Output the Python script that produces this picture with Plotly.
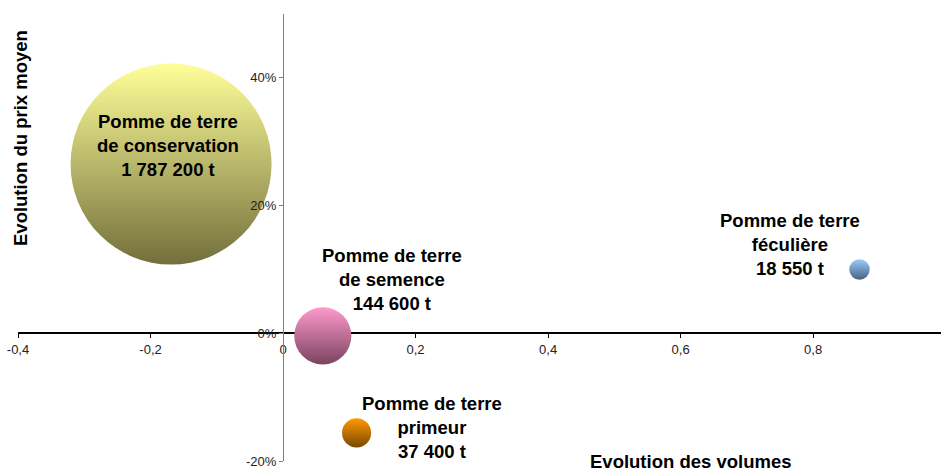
import plotly.graph_objects as go

# ---- data ----
categories = ["Pomme de terre<br>de conservation", "Pomme de terre<br>de semence",
              "Pomme de terre<br>primeur", "Pomme de terre<br>féculière"]
volume_change = [-0.169, 0.060, 0.111, 0.870]     # Evolution des volumes
price_change = [0.265, -0.004, -0.156, 0.100]     # Evolution du prix moyen
tonnage = [1787200, 144600, 37400, 18550]

x_tickvals = [-0.4, -0.2, 0, 0.2, 0.4, 0.6, 0.8]
x_ticktext = ["-0,4", "-0,2", "0", "0,2", "0,4", "0,6", "0,8"]
y_tickvals = [-0.2, 0, 0.2, 0.4]
y_ticktext = ["-20%", "0%", "20%", "40%"]

# ---- styles ----
top_colors = ["#FFFF99", "#FF99CC", "#FF9900", "#99CCFF"]
bottom_colors = ["#736F3C", "#7A4460", "#7A4800", "#4A6180"]
label_shift = [(-3.5, 19), (69, 56.5), (75, 5), (-70, 25)]

FONT = "Arial, 'Liberation Sans', sans-serif"
W, H = 941, 472
ML, MR, MT, MB = 18, 0, 14, 11
xr = [-0.4, 0.993]
yr = [-0.2, 0.5]

max_d = 201
sizeref = 2 * max(tonnage) / (max_d ** 2)

fig = go.Figure()
for i in range(len(categories)):
    fig.add_trace(go.Scatter(
        x=[volume_change[i]], y=[price_change[i]], mode="markers",
        marker=dict(size=[tonnage[i]], sizemode="area", sizeref=sizeref,
                    color=top_colors[i],
                    gradient=dict(type="vertical", color=bottom_colors[i]),
                    line=dict(width=0), opacity=1),
        showlegend=False, hoverinfo="skip"))


def fmt_t(v):
    return f"{v:,}".replace(",", " ") + " t"


annotations = []
for i in range(len(categories)):
    dx, dy = label_shift[i]
    annotations.append(dict(
        x=volume_change[i], y=price_change[i], xref="x", yref="y",
        text=f"<b>{categories[i]}<br>{fmt_t(tonnage[i])}</b>",
        showarrow=False, xshift=dx, yshift=dy, align="center",
        xanchor="center", yanchor="middle",
        font=dict(family=FONT, size=18.5, color="#000000")))

# axis titles
annotations.append(dict(
    x=(20 - ML) / (W - ML - MR), y=(H - MB - 138) / (H - MT - MB),
    xref="paper", yref="paper", text="<b>Evolution du prix moyen</b>",
    textangle=-90, showarrow=False, xanchor="center", yanchor="middle",
    font=dict(family=FONT, size=18.5, color="#000000")))
annotations.append(dict(
    x=(691 - ML) / (W - ML - MR), y=(H - MB - 461) / (H - MT - MB),
    xref="paper", yref="paper", text="<b>Evolution des volumes</b>",
    showarrow=False, xanchor="center", yanchor="middle",
    font=dict(family=FONT, size=18.5, color="#000000")))

fig.update_layout(
    width=W, height=H, template="none",
    margin=dict(l=ML, r=MR, t=MT, b=MB, pad=0, autoexpand=False),
    paper_bgcolor="white", plot_bgcolor="white",
    annotations=annotations,
    xaxis=dict(range=xr, anchor="free", position=(0 - yr[0]) / (yr[1] - yr[0]),
               showgrid=False, zeroline=False, showline=True,
               linecolor="#000000", linewidth=1.5,
               ticks="outside", ticklen=4, tickcolor="#000000", tickwidth=1,
               tickvals=x_tickvals, ticktext=x_ticktext,
               tickfont=dict(family=FONT, size=13, color="#222222"),
               layer="below traces", automargin=False),
    yaxis=dict(range=yr, anchor="free", position=(0 - xr[0]) / (xr[1] - xr[0]),
               showgrid=False, zeroline=False, showline=True,
               linecolor="#808080", linewidth=1.2,
               ticks="outside", ticklen=4, tickcolor="#808080", tickwidth=1,
               tickvals=y_tickvals, ticktext=y_ticktext,
               tickfont=dict(family=FONT, size=13, color="#222222"),
               layer="above traces", automargin=False),
)

fig.write_html("out.html", config={"displayModeBar": False},
               post_script="document.body.style.margin='0';document.body.style.padding='0';document.body.style.overflow='hidden';")
